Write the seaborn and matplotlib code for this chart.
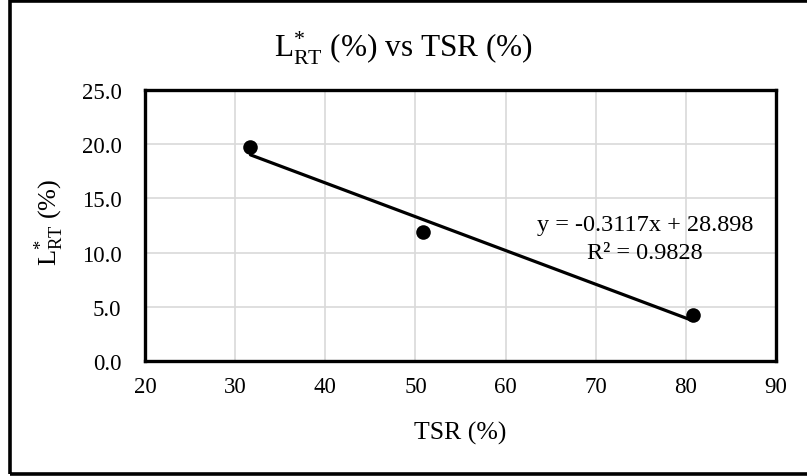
import numpy as np
import pandas as pd
import matplotlib
matplotlib.use("Agg")
import matplotlib.pyplot as plt
import seaborn as sns

# Measured samples
tsr = [31.7, 50.85, 80.74]
l_rt = [19.7, 11.9, 4.23]

# Linear trendline (as reported)
slope = -0.3117
intercept = 28.898
r_squared = 0.9828

x_ticks = [20, 30, 40, 50, 60, 70, 80, 90]
y_ticks = [0.0, 5.0, 10.0, 15.0, 20.0, 25.0]

sns.set_theme(style="white")
plt.rcParams["font.family"] = ["Liberation Serif", "DejaVu Serif"]
plt.rcParams["mathtext.fontset"] = "custom"
plt.rcParams["mathtext.rm"] = "Liberation Serif"
plt.rcParams["mathtext.it"] = "Liberation Serif:italic"
plt.rcParams["mathtext.bf"] = "Liberation Serif:bold"

fig = plt.figure(figsize=(8.07, 4.77), dpi=100)
ax = fig.add_axes([0.1797, 0.2411, 0.9616 - 0.1797, 0.8092 - 0.2411])

df = pd.DataFrame({"TSR": tsr, "L": l_rt})

# trendline spanning the data range
line_x = np.array([min(tsr), max(tsr)])
trend = pd.DataFrame({"TSR": line_x, "L": slope * line_x + intercept})
sns.lineplot(data=trend, x="TSR", y="L", ax=ax, color="black", linewidth=2.3, zorder=3)
sns.scatterplot(data=df, x="TSR", y="L", ax=ax, color="black", s=110,
                edgecolor="black", linewidth=0, zorder=4)

ax.set_xlim(20, 90)
ax.set_ylim(0, 25)
ax.set_xticks(x_ticks)
ax.set_yticks(y_ticks)
ax.set_xticklabels([f"{v:d}" for v in x_ticks])
ax.set_yticklabels([f"{v:.1f}" for v in y_ticks])
ax.tick_params(axis="both", labelsize=16.5, length=0, colors="black")
ax.tick_params(axis="x", pad=11)
ax.tick_params(axis="y", pad=17)

ax.grid(True, color="#d9d9d9", linewidth=1.2)
ax.set_axisbelow(True)
for sp in ax.spines.values():
    sp.set_visible(True)
    sp.set_color("black")
    sp.set_linewidth(2.4)

ax.set_xlabel("TSR (%)", fontsize=18.5, color="black", labelpad=17)
ax.set_ylabel(r"L$^{*}_{\mathrm{RT}}$ (%)", fontsize=19, color="black")
ax.yaxis.set_label_coords(-0.125, 0.517)

fig.text(0.5, 0.899, r"L$^{*}_{\mathrm{RT}}$ (%) vs TSR (%)", ha="center", va="center",
         fontsize=22.5, color="black")

ax.text(75.5, 12.6, f"y = {slope}x + {intercept}", ha="center", va="center",
        fontsize=17.5, color="black")
ax.text(75.5, 10.05, f"R² = {r_squared}", ha="center", va="center",
        fontsize=17.5, color="black")

# outer chart border (open on the right edge)
fig.patches.append(plt.Rectangle((0.0124, 0.0042), 1.05, 0.9916, transform=fig.transFigure,
                                 fill=False, edgecolor="black", linewidth=2.6))

fig.savefig("out.png", dpi=100)
